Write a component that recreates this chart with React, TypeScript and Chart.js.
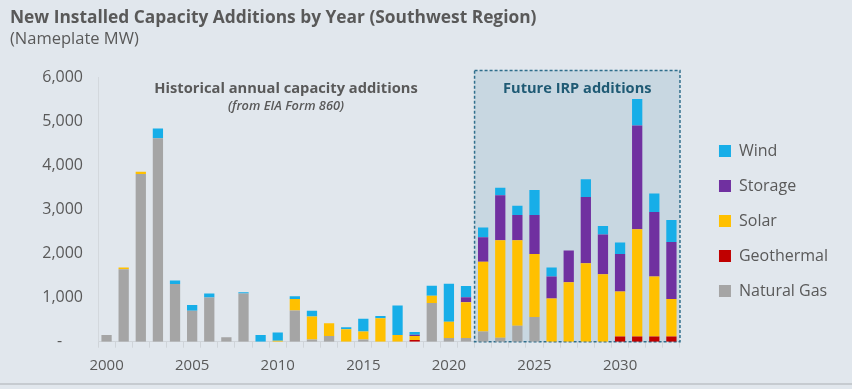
import React, { useEffect, useRef } from "react";
import { Chart, registerables } from "chart.js";

Chart.register(...registerables);

const years = [
  "2000", "2001", "2002", "2003", "2004", "2005", "2006", "2007", "2008", "2009",
  "2010", "2011", "2012", "2013", "2014", "2015", "2016", "2017", "2018", "2019",
  "2020", "2021", "2022", "2023", "2024", "2025", "2026", "2027", "2028", "2029",
  "2030", "2031", "2032", "2033",
];

const naturalGas = [150, 1640, 3800, 4610, 1310, 700, 1000, 100, 1090, 0, 0, 710, 50, 130, 0, 50, 0, 0, 0, 880, 85, 85, 230, 90, 360, 560, 0, 0, 0, 0, 0, 0, 0, 0];
const geothermal = [0, 0, 0, 0, 0, 0, 0, 0, 0, 0, 0, 0, 0, 0, 0, 0, 0, 0, 40, 0, 0, 0, 0, 0, 0, 0, 0, 0, 0, 0, 120, 120, 120, 120];
const solar = [0, 40, 50, 0, 0, 0, 0, 0, 0, 0, 20, 260, 520, 290, 280, 180, 530, 150, 90, 160, 370, 810, 1580, 2210, 1940, 1430, 980, 1350, 1780, 1530, 1020, 2430, 1360, 850];
const storage = [0, 0, 0, 0, 0, 0, 0, 0, 0, 0, 0, 0, 0, 0, 0, 0, 0, 0, 30, 0, 0, 110, 560, 1020, 570, 880, 500, 720, 1500, 900, 850, 2350, 1460, 1290];
const wind = [0, 0, 0, 220, 80, 130, 90, 0, 30, 150, 190, 60, 130, 0, 50, 290, 55, 670, 60, 230, 860, 260, 220, 170, 210, 570, 200, 0, 400, 190, 260, 600, 420, 500];

const yTicks = [0, 1000, 2000, 3000, 4000, 5000, 6000];
const firstFutureIndex = 22;

const TEXT = "#595959";
const FONT = "'Open Sans', sans-serif";

export default function App() {
  const ref = useRef<HTMLCanvasElement>(null);

  useEffect(() => {
    document.body.style.margin = "0";
    if (!ref.current) return;

    const irpPlugin = {
      id: "irpBox",
      beforeDatasetsDraw(chart: any) {
        const { ctx, chartArea, scales } = chart;
        const x = scales.x;
        const left = (x.getPixelForValue(firstFutureIndex - 1) + x.getPixelForValue(firstFutureIndex)) / 2;
        const right = chartArea.right;
        const top = chartArea.top - 6.5;
        const bottom = chartArea.bottom;
        ctx.save();
        ctx.fillStyle = "#c8d7e1";
        ctx.fillRect(left, top, right - left, bottom - top);
        ctx.setLineDash([3, 2]);
        ctx.lineWidth = 1.5;
        ctx.strokeStyle = "#2f6e8c";
        ctx.strokeRect(left, top, right - left, bottom - top);
        ctx.setLineDash([]);
        ctx.textAlign = "center";
        ctx.textBaseline = "middle";
        ctx.fillStyle = "#1f5a74";
        ctx.font = `bold 14.6px ${FONT}`;
        ctx.fillText("Future IRP additions", (left + right) / 2, 89);
        ctx.fillStyle = TEXT;
        ctx.font = `bold 14.7px ${FONT}`;
        ctx.fillText("Historical annual capacity additions", 286, 89);
        ctx.font = `italic 600 12.8px ${FONT}`;
        ctx.fillText("(from EIA Form 860)", 286, 106);
        ctx.restore();
      },
    };

    const chart = new Chart(ref.current, {
      type: "bar",
      data: {
        labels: years,
        datasets: [
          { label: "Natural Gas", data: naturalGas, backgroundColor: "#a5a5a5" },
          { label: "Geothermal", data: geothermal, backgroundColor: "#c00000" },
          { label: "Solar", data: solar, backgroundColor: "#ffc000" },
          { label: "Storage", data: storage, backgroundColor: "#7030a0" },
          { label: "Wind", data: wind, backgroundColor: "#17aee8" },
        ],
      },
      options: {
        responsive: false,
        animation: false,
        datasets: { bar: { categoryPercentage: 1, barPercentage: 0.6 } },
        layout: { padding: { top: 77, bottom: 5.5, left: 0, right: 14 } },
        plugins: {
          title: { display: false },
          tooltip: { enabled: false },
          legend: {
            position: "right",
            align: "start",
            reverse: true,
            title: { display: true, text: " ", font: { size: 12 }, padding: 16.3 },
            labels: {
              boxWidth: 12,
              boxHeight: 12,
              padding: 19,
              color: TEXT,
              font: { family: FONT, size: 16 },
            },
          },
        },
        scales: {
          x: {
            stacked: true,
            grid: {
              display: true,
              drawOnChartArea: false,
              drawTicks: true,
              tickLength: 6,
              color: "#cfd4d9",
              offset: true,
            },
            border: { display: true, color: "#cfd4d9" },
            ticks: {
              color: TEXT,
              font: { family: FONT, size: 15 },
              padding: 8.9,
              autoSkip: false,
              maxRotation: 0,
              callback: (_v: any, i: number) => (Number(years[i]) % 5 === 0 ? years[i] : ""),
            },
          },
          y: {
            stacked: true,
            min: 0,
            max: 6000,
            afterBuildTicks: (s: any) => {
              s.ticks = yTicks.map((v) => ({ value: v }));
            },
            afterFit: (s: any) => {
              s.width = 98;
            },
            grid: { display: false, drawTicks: false },
            border: { display: true, color: "#d3d8dd" },
            ticks: {
              color: TEXT,
              padding: 15,
              font: { family: FONT, size: 16 },
              callback: (v: any) => (Number(v) === 0 ? "-     " : Number(v).toLocaleString("en-US")),
            },
          },
          yRight: {
            position: "right",
            display: true,
            grid: { display: false, drawTicks: false },
            border: { display: false },
            ticks: { display: false },
            afterFit: (s: any) => {
              s.width = 20;
            },
          },
        },
      },
      plugins: [irpPlugin],
    });
    return () => chart.destroy();
  }, []);

  return (
    <div
      style={{
        position: "relative",
        width: 852,
        height: 389,
        background: "#e1e7ed",
        overflow: "hidden",
        fontFamily: FONT,
      }}
    >
      <canvas ref={ref} width={852} height={389} style={{ display: "block", position: "absolute", left: 0, top: 0 }} />
      <div
        style={{
          position: "absolute",
          left: 10,
          top: 8,
          fontSize: 17.35,
          lineHeight: 1,
          fontWeight: 700,
          color: TEXT,
          whiteSpace: "nowrap",
        }}
      >
        New Installed Capacity Additions by Year (Southwest Region)
      </div>
      <div
        style={{
          position: "absolute",
          left: 10,
          top: 30,
          fontSize: 16.5,
          lineHeight: 1,
          color: TEXT,
          whiteSpace: "nowrap",
        }}
      >
        (Nameplate MW)
      </div>
      <div
        style={{
          position: "absolute",
          left: 0,
          top: 383,
          width: 852,
          height: 2,
          background: "#c6cbd0",
        }}
      />
    </div>
  );
}
